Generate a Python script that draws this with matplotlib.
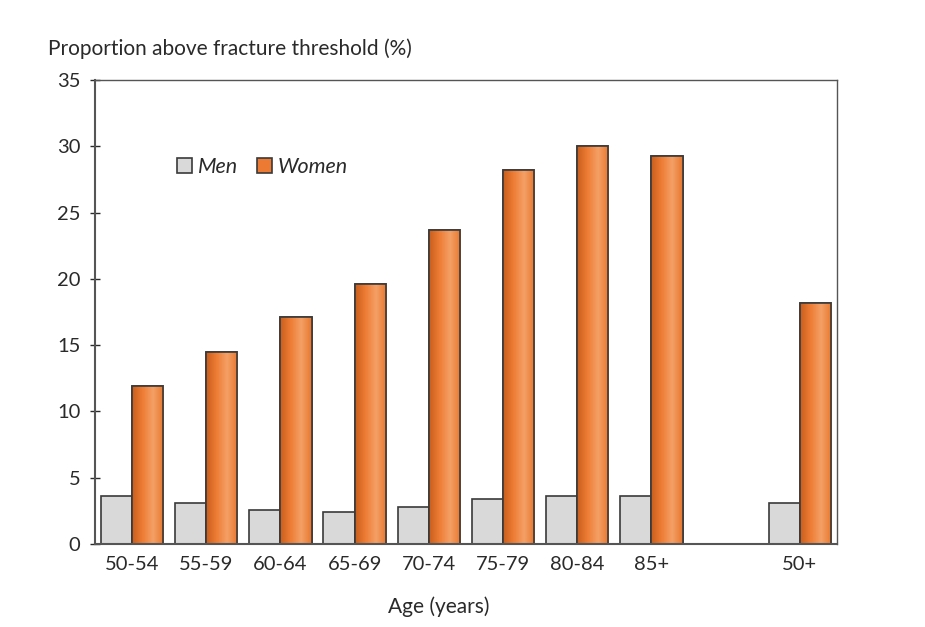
import matplotlib
matplotlib.use("Agg")
import matplotlib.pyplot as plt
import numpy as np
from matplotlib.colors import LinearSegmentedColormap

plt.rcParams['font.family'] = ['Lato', 'DejaVu Sans']

# data
age_groups = ['50-54', '55-59', '60-64', '65-69', '70-74', '75-79', '80-84', '85+', '', '50+']
men = [3.6, 3.1, 2.6, 2.4, 2.8, 3.4, 3.6, 3.6, np.nan, 3.1]
women = [11.9, 14.5, 17.1, 19.6, 23.7, 28.2, 30.0, 29.3, np.nan, 18.2]
yticks = [0, 5, 10, 15, 20, 25, 30, 35]

fig = plt.figure(figsize=(9.25, 6.27), dpi=100)
ax = fig.add_axes([0.1027, 0.1324, 0.802, 0.740])

x = np.arange(len(age_groups))
w = 0.42
edge = '#3a3a3a'
txt = '#2a2a2a'

ax.bar(x - w / 2, men, width=w, color='#d9d9d9', edgecolor=edge, linewidth=1.2, label='Men', zorder=2)
wb = ax.bar(x + w / 2, women, width=w, color='#ec7a32', edgecolor=edge, linewidth=1.2, label='Women', zorder=2)

# shaded look on the orange bars (darker left edge, lighter right)
orange = LinearSegmentedColormap.from_list('org', ['#c95e1c', '#ee7d36', '#f4a066', '#e8772f'])
grad = np.linspace(0, 1, 64).reshape(1, -1)
for p in wb.patches:
    h = p.get_height()
    if np.isnan(h):
        continue
    x0 = p.get_x()
    im = ax.imshow(grad, cmap=orange, aspect='auto', extent=[x0, x0 + p.get_width(), 0, h], zorder=2.1)
    im.set_clip_path(p)
    ax.bar(x0 + p.get_width() / 2, h, width=p.get_width(), fill=False, edgecolor=edge, linewidth=1.2, zorder=2.2)

ax.set_xlim(-0.5, 9.5)
ax.set_ylim(0, 35)
ax.set_yticks(yticks)
ax.set_xticks(x)
ax.set_xticklabels(age_groups)
ax.tick_params(axis='x', length=0, pad=9, labelsize=14.5, colors=txt)
ax.tick_params(axis='y', direction='inout', length=7, width=1, pad=7, labelsize=14.5, colors=txt)

for s in ax.spines.values():
    s.set_color('#555555')
    s.set_linewidth(1.0)
ax.spines['left'].set_linewidth(1.5)
ax.spines['bottom'].set_linewidth(1.5)

ax.set_xlabel('Age (years)', fontsize=15, color=txt)
ax.xaxis.set_label_coords(0.464, -0.113)
fig.text(0.052, 0.912, 'Proportion above fracture threshold (%)', fontsize=15, color=txt)

leg = ax.legend(loc='upper left', bbox_to_anchor=(0.085, 0.875), ncol=2, frameon=False,
                handlelength=0.7, handleheight=0.7, handletextpad=0.25, columnspacing=0.9,
                prop={'style': 'italic', 'size': 15.5})
for t in leg.get_texts():
    t.set_color(txt)

fig.savefig('out.png', dpi=100, facecolor='white')
